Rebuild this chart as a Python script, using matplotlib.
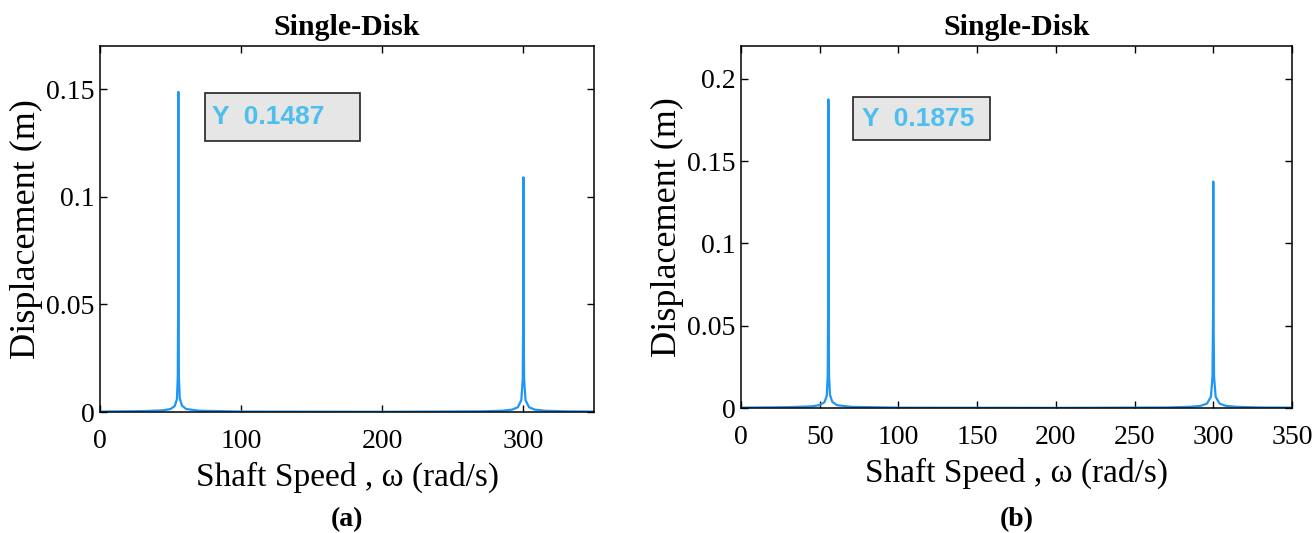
import matplotlib.pyplot as plt
from matplotlib.patches import Rectangle

# frequency response of the single-disk rotor, read at selected shaft speeds
speed_a = [0, 30, 45, 50, 53, 54.5, 55.1, 55.35, 55.5, 55.65, 55.9, 56.5, 58, 61, 70, 100,
           200, 270, 285, 292, 296, 298.5, 299.5, 299.85, 300.0, 300.15, 300.5, 301.5,
           304, 308, 315, 330, 350]
disp_a = [0.0002, 0.0004, 0.0008, 0.0014, 0.0028, 0.0060, 0.0160, 0.0500, 0.1487, 0.0500,
          0.0160, 0.0065, 0.0030, 0.0014, 0.0006, 0.0002,
          0.0001, 0.0003, 0.0006, 0.0011, 0.0022, 0.0055, 0.0150, 0.0450, 0.1090, 0.0450,
          0.0150, 0.0055, 0.0022, 0.0011, 0.0006, 0.0003, 0.0002]

speed_b = [0, 30, 45, 50, 53, 54.5, 55.1, 55.35, 55.5, 55.65, 55.9, 56.5, 58, 61, 70, 100,
           200, 270, 285, 292, 296, 298.5, 299.5, 299.85, 300.0, 300.15, 300.5, 301.5,
           304, 308, 315, 330, 350]
disp_b = [0.0002, 0.0005, 0.0010, 0.0018, 0.0035, 0.0075, 0.0200, 0.0620, 0.1875, 0.0620,
          0.0200, 0.0080, 0.0037, 0.0017, 0.0007, 0.0002,
          0.0001, 0.0003, 0.0007, 0.0013, 0.0027, 0.0068, 0.0190, 0.0560, 0.1376, 0.0560,
          0.0190, 0.0068, 0.0027, 0.0013, 0.0007, 0.0003, 0.0002]

peak_a = max(disp_a)
peak_b = max(disp_b)

line_color = '#1E96F5'
label_color = '#4DBEEE'

plt.rcParams['font.family'] = ['Liberation Serif', 'DejaVu Serif']

fig = plt.figure(figsize=(13.13, 5.33), dpi=100)
ax1 = fig.add_axes([100 / 1313, 121 / 533, 494 / 1313, 366 / 533])
ax2 = fig.add_axes([741 / 1313, 125 / 533, 551 / 1313, 362 / 533])

# data-tip box: (x0, x1, y0, y1) and text anchor, in axes fraction
panels = [
    (ax1, speed_a, disp_a, peak_a, 0.17, [0, 0.05, 0.1, 0.15], [0, 100, 200, 300],
     (0.2126, 0.526, 0.740, 0.872), (0.227, 0.806), '(a)', -0.295),
    (ax2, speed_b, disp_b, peak_b, 0.22, [0, 0.05, 0.1, 0.15, 0.2],
     [0, 50, 100, 150, 200, 250, 300, 350],
     (0.203, 0.452, 0.740, 0.859), (0.2196, 0.797), '(b)', -0.309),
]

for ax, x, y, peak, ytop, yt, xt, box, txt, tag, tag_y in panels:
    ax.plot(x, y, color=line_color, lw=1.6)
    ax.set_xlim(0, 350)
    ax.set_ylim(0, ytop)
    ax.set_xticks(xt)
    ax.set_yticks(yt)
    ax.set_yticklabels(['0' if v == 0 else ('%g' % v) for v in yt])
    ax.tick_params(direction='in', length=5, width=1, labelsize=20,
                   top=True, right=True)
    ax.tick_params(axis='x', pad=12)
    ax.tick_params(axis='y', pad=4)
    for s in ax.spines.values():
        s.set_linewidth(1.1)
    ax.set_title('Single-Disk', fontsize=21.5, fontweight='bold', pad=8)
    ax.set_xlabel('Shaft Speed , ω (rad/s)', fontsize=24, labelpad=6)
    ax.set_ylabel('Displacement (m)', fontsize=26, labelpad=2)

    ax.add_patch(Rectangle((box[0], box[2]), box[1] - box[0], box[3] - box[2],
                           transform=ax.transAxes, fc='#e6e6e6', ec='#222222',
                           lw=1.2, zorder=4))
    ax.text(txt[0], txt[1], 'Y  %.4f' % peak, transform=ax.transAxes,
            family=['Liberation Sans', 'DejaVu Sans'], fontsize=19, fontweight='bold',
            color=label_color, va='center', ha='left', zorder=5)
    ax.text(0.5, tag_y, tag, transform=ax.transAxes, ha='center', va='center',
            fontsize=20, fontweight='bold')

fig.savefig('out.png', dpi=100)
